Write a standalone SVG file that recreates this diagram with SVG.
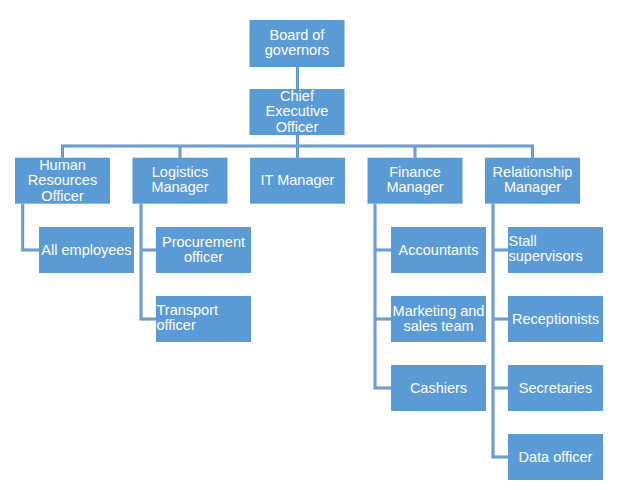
<svg xmlns="http://www.w3.org/2000/svg" width="625" height="490" viewBox="0 0 625 490">
<style>
.box{fill:#5B9BD5}
.t{font-family:"Liberation Sans",Arial,sans-serif;font-size:14.5px;fill:#FFFFFF;text-anchor:middle}
.l{text-anchor:start}
.c1{fill:none;stroke:#5A8FC8;stroke-width:3}
.c2{fill:none;stroke:#8CB2DE;stroke-width:0.8}
</style>
<rect width="625" height="490" fill="#FFFFFF"/>
<defs>
<path id="conn" d="M297.5 67V89 M297.5 135V157.7 M62.5 157.7V146H532.5V157.7 M180 146V157.7 M415 146V157.7 M22.7 204V250H39 M141 204V319H156 M141 250H156 M375 204V388H391 M375 250H391 M375 319H391 M493 204V457H508 M493 250H508 M493 319H508 M493 388H508"/>
</defs>
<g id="connectors">
<use href="#conn" class="c1"/>
<use href="#conn" class="c2"/>
</g>
<g id="board"><rect class="box" x="249.5" y="20" width="95" height="47"/><text class="t" x="297" y="39.7">Board of</text><text class="t" x="297" y="55">governors</text></g>
<g id="ceo"><rect class="box" x="249.5" y="89" width="95" height="46"/><text class="t" x="297" y="101">Chief</text><text class="t" x="297" y="116">Executive</text><text class="t" x="297" y="131.5">Officer</text></g>
<g id="hr"><rect class="box" x="15" y="157.7" width="95" height="46"/><text class="t" x="62.5" y="170">Human</text><text class="t" x="62.5" y="185">Resources</text><text class="t" x="62.5" y="200.5">Officer</text></g>
<g id="logistics"><rect class="box" x="132.5" y="157.7" width="95" height="46"/><text class="t" x="180" y="177">Logistics</text><text class="t" x="180" y="192">Manager</text></g>
<g id="it"><rect class="box" x="250" y="157.7" width="95" height="46"/><text class="t" x="297.5" y="185">IT Manager</text></g>
<g id="finance"><rect class="box" x="367.5" y="157.7" width="95" height="46"/><text class="t" x="415" y="177">Finance</text><text class="t" x="415" y="192">Manager</text></g>
<g id="relationship"><rect class="box" x="485" y="157.7" width="95" height="46"/><text class="t" x="532.5" y="177">Relationship</text><text class="t" x="532.5" y="192">Manager</text></g>
<g id="allemployees"><rect class="box" x="39" y="227" width="95" height="46"/><text class="t" x="86.5" y="255">All employees</text></g>
<g id="procurement"><rect class="box" x="156" y="227" width="95" height="46"/><text class="t" x="203.5" y="247">Procurement</text><text class="t" x="203.5" y="262">officer</text></g>
<g id="transport"><rect class="box" x="156" y="296" width="95" height="46"/><text class="t l" x="156.5" y="315">Transport</text><text class="t l" x="156.5" y="330">officer</text></g>
<g id="accountants"><rect class="box" x="391" y="227" width="95" height="46"/><text class="t" x="438.5" y="255">Accountants</text></g>
<g id="marketing"><rect class="box" x="391" y="296" width="95" height="46"/><text class="t" x="438.5" y="316">Marketing and</text><text class="t" x="438.5" y="331">sales team</text></g>
<g id="cashiers"><rect class="box" x="391" y="365" width="95" height="46"/><text class="t" x="438.5" y="393">Cashiers</text></g>
<g id="stall"><rect class="box" x="508" y="227" width="95" height="46"/><text class="t l" x="508.5" y="246">Stall</text><text class="t l" x="508.5" y="261">supervisors</text></g>
<g id="receptionists"><rect class="box" x="508" y="296" width="95" height="46"/><text class="t" x="555.5" y="324">Receptionists</text></g>
<g id="secretaries"><rect class="box" x="508" y="365" width="95" height="46"/><text class="t" x="555.5" y="393">Secretaries</text></g>
<g id="dataofficer"><rect class="box" x="508" y="434" width="95" height="46"/><text class="t" x="555.5" y="462">Data officer</text></g>
</svg>
